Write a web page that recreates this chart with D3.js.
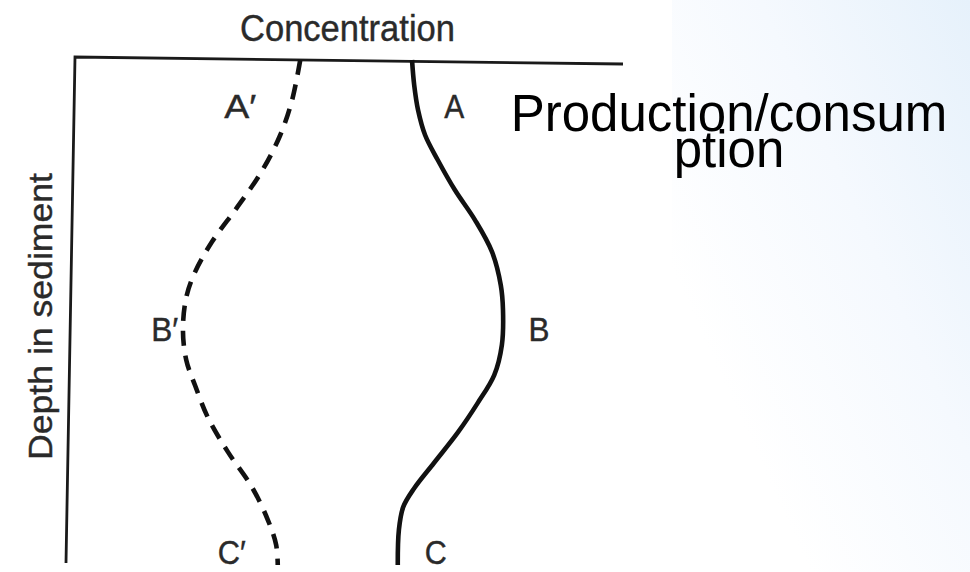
<!DOCTYPE html>
<html>

<head>
  <meta charset="utf8">
  <script src="https://d3js.org/d3.v7.min.js"></script>
  <style>
    body {
      margin: 0;
      background: #fff;
    }

    .curve {
      fill: none;
      stroke: #111;
      stroke-width: 4.6;
      stroke-linecap: butt;
    }

    .frame {
      stroke: #1a1a1a;
      stroke-width: 2.8;
      fill: none;
    }

    .cond {
      font-family: "Liberation Sans", Arial, sans-serif;
      fill: #2a2a2a;
      stroke: #2a2a2a;
      stroke-width: 0.4;
    }

    .note {
      font-family: "Liberation Sans", Arial, sans-serif;
      fill: #000;
    }
  </style>
</head>

<body>
  <svg id="chart" width="970" height="572"></svg>

  <script>
    // depth below the sediment surface (0 = top, 100 = bottom of the panel)
    var depthSolid = [0, 5, 9.9, 14.9, 19.8, 25.7, 31.7, 38, 44.6, 49.5, 56.4, 62.4, 67.9, 73.7, 79.8, 84.8, 88.5, 93.1, 100];
    // concentration, solid profile A-B-C
    var concSolid = [61.5, 61.9, 62.6, 63.9, 66.2, 69.3, 73.0, 76.1, 77.7, 78.1, 77.9, 76.5, 73.5, 69.9, 65.5, 61.9, 59.9, 59.1, 58.9];

    var depthDashed = [0, 8, 15, 22, 29, 36, 42, 47, 53.5, 59.4, 64.4, 70.9, 77.6, 84.6, 91.1, 96, 100];
    // concentration, dashed profile A'-B'-C'
    var concDashed = [41.1, 39.6, 37.4, 34.1, 29.7, 25.0, 21.9, 20.3, 19.7, 20.3, 21.9, 24.3, 27.9, 32.3, 35.2, 36.7, 37.0];

    var solidLabels = ["A", "B", "C"];
    var dashedLabels = ["A\u2032", "B\u2032", "C\u2032"];
    var labelDepths = [9, 53, 100];

    var svg = d3.select('#chart');

    // slide background on the right
    var defs = svg.append('defs');
    var grad = defs.append('linearGradient')
      .attr('id', 'bg')
      .attr('x1', 1).attr('y1', 0)
      .attr('x2', 0.2).attr('y2', 0.7);
    grad.append('stop').attr('offset', 0).attr('stop-color', '#e6f1fb');
    grad.append('stop').attr('offset', 0.5).attr('stop-color', '#f5f9fe');
    grad.append('stop').attr('offset', 1).attr('stop-color', '#ffffff');

    svg.append('rect')
      .attr('x', 672).attr('y', 0)
      .attr('width', 298).attr('height', 572)
      .attr('fill', 'url(#bg)');

    var x = d3.scaleLinear().domain([0, 100]).range([75, 623]);
    var y = d3.scaleLinear().domain([0, 100]).range([60, 565]);

    // frame: concentration axis on top, depth axis on the left (scan is slightly tilted)
    svg.append('path')
      .attr('class', 'frame')
      .attr('d', d3.line()([
        [x(0) - 9, y(100) - 2],
        [x(0), y(0) - 3],
        [x(100), y(0) + 4]
      ]));

    var line = d3.line()
      .x((d) => x(d[0]))
      .y((d) => y(d[1]))
      .curve(d3.curveCatmullRom.alpha(0.5));

    var solid = concSolid.map((c, i) => [c, depthSolid[i]]);
    var dashed = concDashed.map((c, i) => [c, depthDashed[i]]);

    svg.append('path')
      .attr('class', 'curve')
      .attr('d', line(solid));

    svg.append('path')
      .attr('class', 'curve')
      .attr('stroke-dasharray', '15,10')
      .attr('d', line(dashed));

    // point labels
    var interp = (pts, dep) => {
      for (var i = 1; i < pts.length; i++) {
        if (pts[i][1] >= dep) {
          var t = (dep - pts[i - 1][1]) / (pts[i][1] - pts[i - 1][1]);
          return pts[i - 1][0] + t * (pts[i][0] - pts[i - 1][0]);
        }
      }
      return pts[pts.length - 1][0];
    };

    svg.selectAll('.lab-solid')
      .data(solidLabels)
      .enter()
      .append('text')
      .attr('class', 'cond lab-solid')
      .attr('font-size', 33)
      .attr('textLength', (d, i) => [20, 21, 22][i])
      .attr('lengthAdjust', 'spacingAndGlyphs')
      .attr('x', (d, i) => x(interp(solid, labelDepths[i])) + [27, 26, 27][i])
      .attr('y', (d, i) => Math.min(y(labelDepths[i]) + 13, 564))
      .text((d) => d);

    svg.selectAll('.lab-dashed')
      .data(dashedLabels)
      .enter()
      .append('text')
      .attr('class', 'cond lab-dashed')
      .attr('font-size', 33)
      .attr('textLength', (d, i) => [32, 27, 28][i])
      .attr('lengthAdjust', 'spacingAndGlyphs')
      .attr('x', (d, i) => x(interp(dashed, labelDepths[i])) - [66, 32, 60][i])
      .attr('y', (d, i) => Math.min(y(labelDepths[i]) + 13, 564))
      .text((d) => d);

    // axis titles
    svg.append('text')
      .attr('class', 'cond')
      .attr('font-size', 36)
      .attr('x', 240)
      .attr('y', 41)
      .attr('textLength', 215)
      .attr('lengthAdjust', 'spacingAndGlyphs')
      .text('Concentration');

    svg.append('text')
      .attr('class', 'cond')
      .attr('font-size', 34)
      .attr('transform', 'translate(52, 460) rotate(-90)')
      .attr('textLength', 287)
      .attr('lengthAdjust', 'spacingAndGlyphs')
      .text('Depth in sediment');

    // overlaid slide text
    var note = svg.append('text')
      .attr('class', 'note')
      .attr('font-size', 51)
      .attr('text-anchor', 'middle');
    note.append('tspan').attr('x', 729).attr('y', 131).text('Production/consum');
    note.append('tspan').attr('x', 729).attr('y', 167).text('ption');
  </script>
</body>

</html>
